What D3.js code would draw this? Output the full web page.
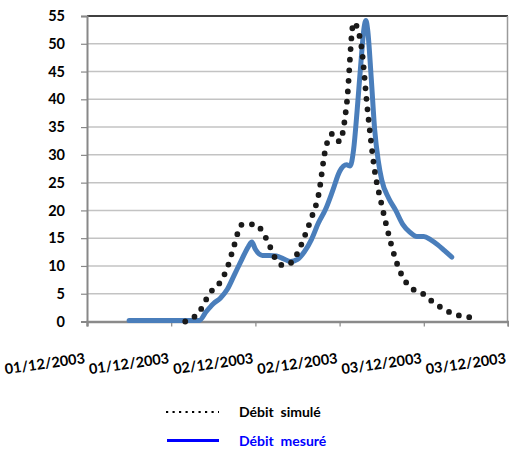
<!DOCTYPE html>
<html>
<head>
<meta charset="utf-8">
<script src="https://cdn.jsdelivr.net/npm/d3@7"></script>
<style>
  html, body { margin: 0; padding: 0; background: #fff; }
  svg { display: block; }
  text { font-family: Lato, "Open Sans", sans-serif; font-weight: bold; }
</style>
</head>
<body>
<div id="chart"></div>
<script>
// Flow hydrograph, 1–3 December 2003 (hours counted from 01/12/2003 00:00)
const startDate = new Date(2003, 11, 1, 0, 0);

// Simulated discharge (hourly)
const simHours  = [14, 15, 16, 17, 18, 19, 20, 21, 22, 23, 24, 25, 26, 27, 28, 29, 30, 31, 32, 33, 34,
                   35, 36, 37, 38, 39, 40, 41, 42, 43, 44, 45, 46, 47, 48, 49, 50, 51, 52, 53, 54, 55];
const simValues = [0, 0.6, 1.7, 4.0, 5.9, 7.1, 9.7, 13.8, 17.4, 17.5, 17.5, 16.2, 13.7, 11.0, 10.1, 10.5, 12.3, 15.3, 18.7, 22.8, 31.1,
                   33.8, 32.4, 39.0, 53.8, 50.4, 37.9, 27.2, 21.0, 15.6, 11.1, 8.0, 6.3, 5.4, 4.9, 3.8, 2.9, 2.1, 1.5, 1.1, 0.9, 0.65];

// Measured discharge
const mesHours  = [6, 7, 8, 9, 10, 11, 12, 13, 14, 15, 16, 17, 18, 19, 20, 21, 22, 23, 23.5, 24, 25, 26, 27, 28, 29, 30,
                   31, 32, 33, 34, 35, 36, 37, 37.5, 38, 38.5, 39, 39.5, 39.75, 40, 40.5, 41, 41.5, 42, 43, 44, 45, 46,
                   47, 48, 49, 50, 51, 52];
const mesValues = [0.2, 0.2, 0.2, 0.2, 0.2, 0.2, 0.2, 0.2, 0.2, 0.2, 0.2, 1.8, 3.2, 4.2, 5.8, 8.4, 11.0, 13.5, 14.3, 13.0, 11.9, 11.9, 11.8, 11.3, 10.8, 11.2,
                   12.6, 14.8, 17.8, 20.2, 23.5, 27.0, 28.2, 28.0, 31.0, 38.0, 46.0, 53.0, 54.2, 52.5, 44.0, 34.5, 29.0, 25.5, 22.2, 20.0, 17.5, 16.1,
                   15.3, 15.3, 14.7, 13.8, 12.7, 11.6];

// Axis ticks
const yTicks = [0, 5, 10, 15, 20, 25, 30, 35, 40, 45, 50, 55];
const xTickHours = [0, 12, 24, 36, 48, 60];

const legendItems = [
  { label: "Débit  simulé", colour: "#000000", dotted: true },
  { label: "Débit  mesuré", colour: "#0000ff", dotted: false }
];

const width = 509, height = 452;
const margin = { left: 87, right: 1, top: 16, bottom: 130.5 };

const toDate = h => new Date(startDate.getTime() + h * 3600 * 1000);

const svg = d3.select("#chart").append("svg")
  .attr("width", width).attr("height", height);

const x = d3.scaleTime()
  .domain([toDate(0), toDate(60)])
  .range([margin.left, width - margin.right]);

const y = d3.scaleLinear()
  .domain([0, 55])
  .range([height - margin.bottom, margin.top]);

// Horizontal gridlines
svg.append("g")
  .selectAll("line")
  .data(yTicks.filter(v => v > 0))
  .join("line")
  .attr("x1", margin.left).attr("x2", width - margin.right)
  .attr("y1", d => y(d)).attr("y2", d => y(d))
  .attr("stroke", d => d === 55 ? "#000" : "#c3c3c3")
  .attr("stroke-width", 1.5);

// Right border of the plot area
svg.append("line")
  .attr("x1", x.range()[1] - 0.5).attr("x2", x.range()[1] - 0.5)
  .attr("y1", y(55)).attr("y2", y(0))
  .attr("stroke", "#9a9a9a").attr("stroke-width", 1.5);

// Y axis
const yAxis = svg.append("g")
  .attr("transform", `translate(${margin.left},0)`)
  .call(d3.axisLeft(y).tickValues(yTicks).tickSize(6).tickPadding(16).tickFormat(d3.format("d")));
yAxis.select(".domain").attr("stroke", "#888").attr("stroke-width", 2);
yAxis.selectAll(".tick line").attr("stroke", "#888").attr("stroke-width", 1.2);
yAxis.selectAll(".tick text")
  .attr("font-size", 14.5).attr("fill", "#000")
  .style("font-family", "Lato, 'Open Sans', sans-serif").style("font-weight", "bold");

// X axis
const xAxis = svg.append("g")
  .attr("transform", `translate(0,${y(0)})`)
  .call(d3.axisBottom(x).tickValues(xTickHours.map(toDate)).tickSize(5)
    .tickFormat(d3.timeFormat("%d/%m/%Y")));
xAxis.select(".domain").attr("stroke", "#8a8a8a").attr("stroke-width", 2.5);
xAxis.selectAll(".tick line").attr("stroke", "#888").attr("stroke-width", 1.2);
xAxis.selectAll(".tick text")
  .attr("font-size", 14.5).attr("fill", "#000")
  .style("font-family", "Lato, 'Open Sans', sans-serif").style("font-weight", "bold")
  .attr("text-anchor", "end")
  .attr("y", 0).attr("dy", 0)
  .attr("transform", "translate(-2,41.5) rotate(-8)");

// Series
const line = d3.line()
  .x(d => x(toDate(d[0])))
  .y(d => y(d[1]))
  .curve(d3.curveMonotoneX);

const mesData = mesHours.map((h, i) => [h, mesValues[i]]);
const simData = simHours.map((h, i) => [h, simValues[i]]);

svg.append("path")
  .datum(mesData)
  .attr("d", line)
  .attr("fill", "none")
  .attr("stroke", "#4a7ebb")
  .attr("stroke-width", 5)
  .attr("stroke-linejoin", "round")
  .attr("stroke-linecap", "round");

svg.append("path")
  .datum(simData)
  .attr("d", line)
  .attr("fill", "none")
  .attr("stroke", "#1a1a1a")
  .attr("stroke-width", 5.8)
  .attr("stroke-dasharray", "0 10.5")
  .attr("stroke-linecap", "round");

// Legend
const legend = svg.append("g");
const legendRows = legend.selectAll("g")
  .data(legendItems)
  .join("g")
  .attr("transform", (d, i) => `translate(0,${412 + i * 28.5})`);

legendRows.append("line")
  .attr("x1", d => d.dotted ? 166 : 167).attr("x2", 219)
  .attr("y1", 0).attr("y2", 0)
  .attr("stroke", d => d.colour)
  .attr("stroke-width", d => d.dotted ? 2.2 : 3.2)
  .attr("stroke-dasharray", d => d.dotted ? "2.2 4.3" : null);

legendRows.append("text")
  .attr("x", 239).attr("y", 5)
  .attr("font-size", 14)
  .attr("fill", d => d.colour)
  .style("white-space", "pre")
  .text(d => d.label);
</script>
</body>
</html>
